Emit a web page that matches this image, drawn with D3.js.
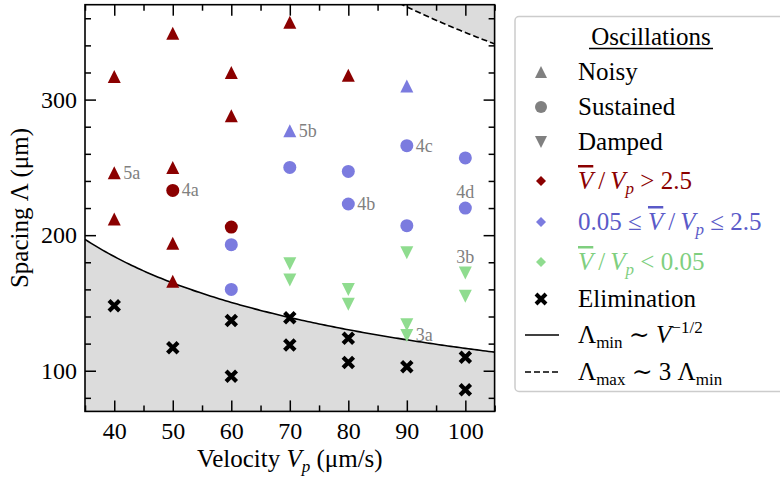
<!DOCTYPE html>
<html>
<head>
<meta charset="utf-8">
<script src="https://cdn.jsdelivr.net/npm/d3@7"></script>
<style>
  body { margin: 0; background: #fff; }
  svg { display: block; font-family: "Liberation Serif", "DejaVu Serif", serif; }
</style>
</head>
<body>
<svg id="chart" width="780" height="479"></svg>
<script>
// data: [velocity um/s, spacing um]
var noisyHigh = [[40,317],[40,246],[40,212],[50,349],[50,250],[50,194],[50,166],[60,320],[60,288],[70,357],[80,318]];
var sustainedHigh = [[50,233],[60,206]];
var noisyMid = [[70,277],[90,310]];
var sustainedMid = [[60,193],[60,160],[70,250],[80,247],[80,223],[90,266],[90,207],[100,257],[100,220]];
var dampedLow = [[70,179],[70,167],[80,160],[80,149],[90,187],[90,134],[90,126],[100,172],[100,155]];
var elimination = [[40,148],[50,117],[60,137],[60,96],[70,139],[70,119],[80,124],[80,106],[90,103],[100,110],[100,86]];

// annotations: text, point, where to put it
var notes = [
  ["5a", 40, 246, "right"], ["4a", 50, 233, "right"], ["5b", 70, 277, "right"],
  ["4b", 80, 223, "right"], ["4c", 90, 266, "right"], ["3a", 90, 126, "right"],
  ["4d", 100, 220, "above"], ["3b", 100, 172, "above"]
];

var xMajor = [40, 50, 60, 70, 80, 90, 100];
var xMinor = [35, 45, 55, 65, 75, 85, 95, 105];
var yMajor = [100, 200, 300];
var yMinor = [80, 120, 140, 160, 180, 220, 240, 260, 280, 320, 340, 360];

var lambdaCoef = 1165;   // Lambda_min = C V^-1/2
var maxFactor = 3;

var red = "#8b0000", blue = "#7b7bdf", green = "#8fdc8f", grey = "#808080";

var svg = d3.select("#chart");
var pL = 85, pR = 494.6, pT = 4.7, pB = 411.4;

var x = d3.scaleLinear().domain([35, 105]).range([pL, pR]);
var y = d3.scaleLinear().domain([70, 370]).range([pB, pT]);

svg.append("clipPath").attr("id", "clip")
  .append("rect").attr("x", pL).attr("y", pT).attr("width", pR - pL).attr("height", pB - pT);

var plot = svg.append("g").attr("clip-path", "url(#clip)");

// theory curves
var vs = d3.range(35, 105.01, 0.5);
var lmin = function(v) { return lambdaCoef / Math.sqrt(v); };

plot.append("path")
  .attr("fill", "#dcdcdc")
  .attr("d", d3.area().x(function(v) { return x(v); }).y0(pB).y1(function(v) { return y(lmin(v)); })(vs));
plot.append("path")
  .attr("fill", "#dcdcdc")
  .attr("d", d3.area().x(function(v) { return x(v); }).y0(pT).y1(function(v) { return y(maxFactor * lmin(v)); })(vs));

plot.append("path")
  .attr("fill", "none").attr("stroke", "#000").attr("stroke-width", 1.6)
  .attr("d", d3.line().x(function(v) { return x(v); }).y(function(v) { return y(lmin(v)); })(vs));
plot.append("path")
  .attr("fill", "none").attr("stroke", "#000").attr("stroke-width", 1.6)
  .attr("stroke-dasharray", "6,3")
  .attr("d", d3.line().x(function(v) { return x(v); }).y(function(v) { return y(maxFactor * lmin(v)); })(vs));

// marker shapes
function triUp(s) { var h = s / 2; return "M0," + (-h) + "L" + h + "," + h + "L" + (-h) + "," + h + "Z"; }
function triDown(s) { var h = s / 2; return "M0," + h + "L" + h + "," + (-h) + "L" + (-h) + "," + (-h) + "Z"; }
function circ(s) { return d3.symbol(d3.symbolCircle, Math.PI * s * s / 4)(); }
function diamond(s) { var h = s / 2; return "M0," + (-h) + "L" + h + ",0L0," + h + "L" + (-h) + ",0Z"; }
function cross(s) { var h = s / 2; return "M" + (-h) + "," + (-h) + "L" + h + "," + h + "M" + (-h) + "," + h + "L" + h + "," + (-h); }

function drawSeries(data, shape, color) {
  plot.append("g").selectAll("path").data(data).enter().append("path")
    .attr("transform", function(d) { return "translate(" + x(d[0]) + "," + y(d[1]) + ")"; })
    .attr("d", shape(13))
    .attr("fill", color);
}

drawSeries(noisyHigh, triUp, red);
drawSeries(sustainedHigh, circ, red);
drawSeries(noisyMid, triUp, blue);
drawSeries(sustainedMid, circ, blue);
drawSeries(dampedLow, triDown, green);

plot.append("g").selectAll("path").data(elimination).enter().append("path")
  .attr("transform", function(d) { return "translate(" + x(d[0]) + "," + y(d[1]) + ")"; })
  .attr("d", cross(10.5))
  .attr("stroke", "#000").attr("stroke-width", 4.2).attr("fill", "none");

// annotations
svg.append("g").selectAll("text").data(notes).enter().append("text")
  .attr("x", function(d) { return d[3] == "right" ? x(d[1]) + 9 : x(d[1]); })
  .attr("y", function(d) { return d[3] == "right" ? y(d[2]) + 6 : y(d[2]) - 10; })
  .attr("text-anchor", function(d) { return d[3] == "right" ? "start" : "middle"; })
  .attr("font-size", 18).attr("fill", grey)
  .text(function(d) { return d[0]; });

// axes, ticks inward on all sides
function styleAxis(g) {
  g.attr("font-family", null).attr("font-size", null);
  g.select(".domain").remove();
  g.selectAll("line").attr("stroke-width", 1.5);
  g.selectAll("text").attr("font-size", 24).attr("fill", "#000");
}
svg.append("g").attr("transform", "translate(0," + pB + ")")
  .call(d3.axisBottom(x).tickValues(xMajor).tickSize(-11).tickPadding(11)).call(styleAxis);
svg.append("g").attr("transform", "translate(0," + pB + ")")
  .call(d3.axisBottom(x).tickValues(xMinor).tickSize(-6).tickFormat("")).call(styleAxis);
svg.append("g").attr("transform", "translate(0," + pT + ")")
  .call(d3.axisTop(x).tickValues(xMajor).tickSize(-11).tickFormat("")).call(styleAxis);
svg.append("g").attr("transform", "translate(0," + pT + ")")
  .call(d3.axisTop(x).tickValues(xMinor).tickSize(-6).tickFormat("")).call(styleAxis);
svg.append("g").attr("transform", "translate(" + pL + ",0)")
  .call(d3.axisLeft(y).tickValues(yMajor).tickSize(-11).tickPadding(8)).call(styleAxis);
svg.append("g").attr("transform", "translate(" + pL + ",0)")
  .call(d3.axisLeft(y).tickValues(yMinor).tickSize(-6).tickFormat("")).call(styleAxis);
svg.append("g").attr("transform", "translate(" + pR + ",0)")
  .call(d3.axisRight(y).tickValues(yMajor).tickSize(-11).tickFormat("")).call(styleAxis);
svg.append("g").attr("transform", "translate(" + pR + ",0)")
  .call(d3.axisRight(y).tickValues(yMinor).tickSize(-6).tickFormat("")).call(styleAxis);

svg.append("rect")
  .attr("x", pL).attr("y", pT).attr("width", pR - pL).attr("height", pB - pT)
  .attr("fill", "none").attr("stroke", "#000").attr("stroke-width", 1.6);

// axis labels
var xl = svg.append("text").attr("x", (pL + pR) / 2).attr("y", 467)
  .attr("text-anchor", "middle").attr("font-size", 25);
xl.append("tspan").text("Velocity ");
xl.append("tspan").attr("font-style", "italic").text("V");
xl.append("tspan").attr("font-style", "italic").attr("font-size", 17).attr("dy", 5).text("p");
xl.append("tspan").attr("dy", -5).text(" (\u03bcm/s)");

svg.append("text")
  .attr("transform", "translate(28," + ((pT + pB) / 2) + ") rotate(-90)")
  .attr("text-anchor", "middle").attr("font-size", 25)
  .text("Spacing \u039b (\u03bcm)");

// legend
var lg = svg.append("g");
lg.append("rect").attr("x", 515).attr("y", 16.5).attr("width", 290).attr("height", 375)
  .attr("rx", 4).attr("fill", "#fff").attr("stroke", "#cccccc").attr("stroke-width", 1.5);

lg.append("text").attr("x", 651).attr("y", 45).attr("text-anchor", "middle").attr("font-size", 25)
  .text("Oscillations");
lg.append("line").attr("x1", 589).attr("x2", 713).attr("y1", 48.5).attr("y2", 48.5)
  .attr("stroke", "#000").attr("stroke-width", 1.4);

var mx = 541, tx = 578;
function legMark(cy, d, color) {
  lg.append("path").attr("transform", "translate(" + mx + "," + cy + ")").attr("d", d).attr("fill", color);
}
function legText(cy, color) {
  return lg.append("text").attr("x", tx).attr("y", cy + 8).attr("font-size", 25).attr("fill", color);
}

legMark(72, triUp(12), grey); legText(72, "#000").text("Noisy");
legMark(107, circ(12), grey); legText(107, "#000").text("Sustained");
legMark(142, triDown(12), grey); legText(142, "#000").text("Damped");

function ratio(t) {
  t.append("tspan").attr("font-style", "italic").style("text-decoration", "overline").text("V");
  t.append("tspan").text("\u2009/\u2009");
  t.append("tspan").attr("font-style", "italic").text("V");
  t.append("tspan").attr("font-style", "italic").attr("font-size", 17).attr("dy", 5).text("p");
  return t;
}

legMark(181, diamond(10), red);
var t1 = legText(181, red); ratio(t1); t1.append("tspan").attr("dy", -5).text(" > 2.5");

legMark(222, diamond(10), blue);
var t2 = legText(222, "#5a5ac8"); t2.append("tspan").text("0.05 \u2264 "); ratio(t2);
t2.append("tspan").attr("dy", -5).text(" \u2264 2.5");

legMark(262, diamond(10), green);
var t3 = legText(262, "#7fcf7f"); ratio(t3); t3.append("tspan").attr("dy", -5).text(" < 0.05");

lg.append("path").attr("transform", "translate(" + mx + ",299)").attr("d", cross(10))
  .attr("stroke", "#000").attr("stroke-width", 4);
legText(299, "#000").text("Elimination");

lg.append("line").attr("x1", 525).attr("x2", 559).attr("y1", 335).attr("y2", 335)
  .attr("stroke", "#000").attr("stroke-width", 1.6);
var t4 = legText(335, "#000");
t4.append("tspan").text("\u039b");
t4.append("tspan").attr("font-size", 17).attr("dy", 5).text("min");
t4.append("tspan").attr("dy", -5).text(" \u223c ");
t4.append("tspan").attr("font-style", "italic").text("V");
t4.append("tspan").attr("font-size", 17).attr("dy", -10).text("\u22121/2");

lg.append("line").attr("x1", 525).attr("x2", 559).attr("y1", 372).attr("y2", 372)
  .attr("stroke", "#000").attr("stroke-width", 1.6).attr("stroke-dasharray", "6,3");
var t5 = legText(372, "#000");
t5.append("tspan").text("\u039b");
t5.append("tspan").attr("font-size", 17).attr("dy", 5).text("max");
t5.append("tspan").attr("dy", -5).text(" \u223c 3 \u039b");
t5.append("tspan").attr("font-size", 17).attr("dy", 5).text("min");
</script>
</body>
</html>
